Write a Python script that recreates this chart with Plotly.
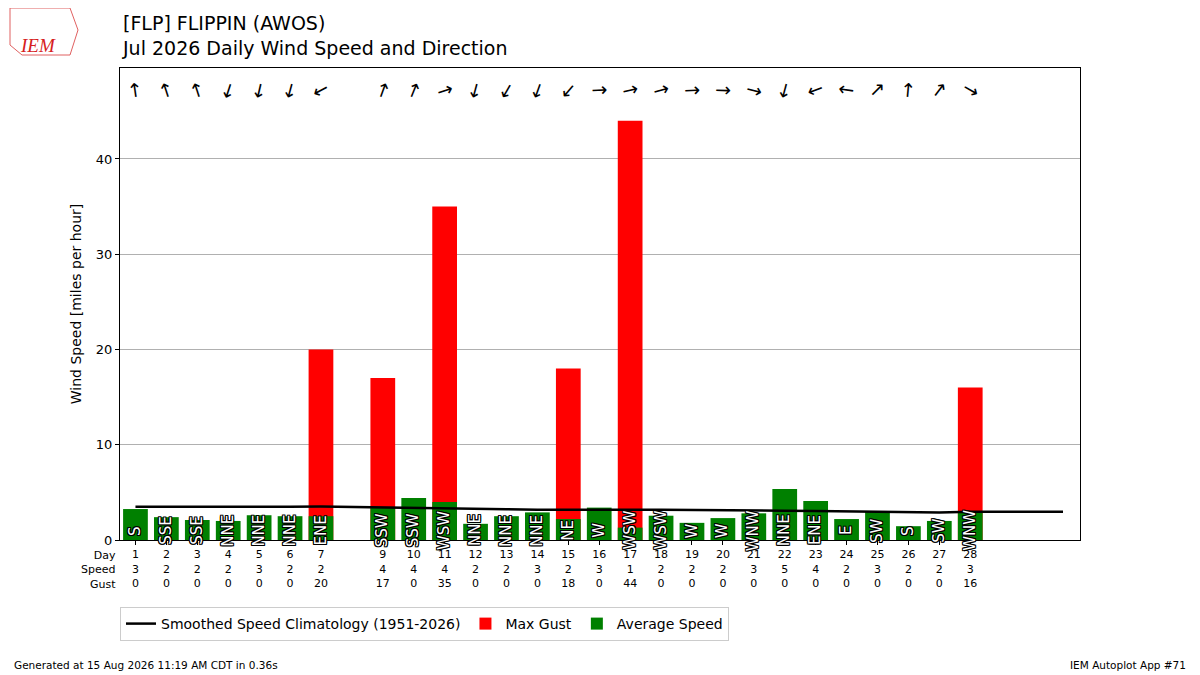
import plotly.graph_objects as go

# daily data (day 8 missing)
days = [1, 2, 3, 4, 5, 6, 7, 9, 10, 11, 12, 13, 14, 15, 16, 17, 18, 19, 20,
        21, 22, 23, 24, 25, 26, 27, 28]
avg_speed = [3.25, 2.4, 2.1, 2.0, 2.6, 2.5, 2.5, 3.45, 4.4, 4.0, 1.7, 2.5, 2.9,
             2.2, 3.4, 1.3, 2.55, 1.8, 2.3, 2.8, 5.35, 4.1, 2.2, 3.0, 1.45,
             2.0, 3.0]
max_gust = [0, 0, 0, 0, 0, 0, 20, 17, 0, 35, 0, 0, 0, 18, 0, 44, 0, 0, 0,
            0, 0, 0, 0, 0, 0, 0, 16]
speed_table = [3, 2, 2, 2, 3, 2, 2, 4, 4, 4, 2, 2, 3, 2, 3, 1, 2, 2, 2, 3, 5,
               4, 2, 3, 2, 2, 3]
# mean direction wind is blowing from (deg)
wind_dir = [172, 162, 162, 18, 13, 15, 62, 200, 202, 252, 15, 30, 20, 40,
            268, 257, 255, 268, 272, 285, 15, 70, 98, 225, 185, 217, 300]
dir_labels = ["S", "SSE", "SSE", "NNE", "NNE", "NNE", "ENE", "SSW", "SSW",
              "WSW", "NNE", "NNE", "NNE", "NE", "W", "WSW", "WSW", "W", "W",
              "WNW", "NNE", "ENE", "E", "SW", "S", "SW", "WNW"]

clim_days = list(range(1, 32))
clim_speed = [3.50, 3.49, 3.48, 3.47, 3.48, 3.50, 3.52, 3.47, 3.42, 3.36, 3.25,
              3.23, 3.22, 3.18, 3.15, 3.16, 3.17, 3.18, 3.17, 3.15, 3.12,
              3.08, 3.04, 3.00, 2.94, 2.90, 2.90, 2.97, 2.97, 2.97, 2.97]

FONT = "DejaVu Sans"
# page body adds an 8px margin, so the figure is laid out 8px up/left
OFF = 8
PW, PH = 960, 472  # plot area size in px


def px(x):
    return (x - 120) / PW


def py(y):
    return (540 - y) / PH


fig = go.Figure()

fig.add_trace(go.Bar(
    x=days, y=max_gust, name="Max Gust", marker_color="#ff0000",
    marker_line_width=0, width=0.8, legendrank=2,
))
fig.add_trace(go.Bar(
    x=days, y=avg_speed, name="Average Speed", marker_color="#008000",
    marker_line_width=0, width=0.8, legendrank=3,
))
fig.add_trace(go.Scatter(
    x=clim_days, y=clim_speed, mode="lines",
    name="Smoothed Speed Climatology (1951-2026)",
    line=dict(color="black", width=2.5), legendrank=1,
))

annotations = []

outline = ", ".join(f"{a}px {b}px 0 black" for a, b in
                    [(1, 1), (-1, -1), (1, -1), (-1, 1), (0, 1), (0, -1), (1, 0), (-1, 0)])

# direction labels inside the bars
for d, lab in zip(days, dir_labels):
    annotations.append(dict(
        x=d, y=1.0, xref="x", yref="y", text=lab, showarrow=False,
        textangle=-90, yanchor="middle", xanchor="center",
        font=dict(family=FONT, size=15, color="white", shadow=outline),
    ))

# arrows showing where the wind is going
for d, wd in zip(days, wind_dir):
    annotations.append(dict(
        x=d, y=47.2, xref="x", yref="y", text="↑", showarrow=False,
        textangle=(wd + 180) % 360,
        font=dict(family=FONT, size=19, color="black"),
    ))

# table row header
annotations.append(dict(
    x=px(118), y=py(547), xref="paper", yref="paper", text="Day<br>Speed<br>Gust",
    showarrow=False, xanchor="right", yanchor="top", align="right",
    font=dict(family=FONT, size=11, color="black"),
))

# titles
annotations.append(dict(
    x=0, y=py(61), xref="paper", yref="paper",
    text="[FLP] FLIPPIN (AWOS)<br>Jul 2026 Daily Wind Speed and Direction",
    showarrow=False, xanchor="left", yanchor="bottom", align="left",
    font=dict(family=FONT, size=19, color="black"),
))

# logo stand-in
annotations.append(dict(
    x=px(38), y=py(45), xref="paper", yref="paper",
    text="<i>IEM</i>", showarrow=False, xanchor="center", yanchor="middle",
    font=dict(family="Liberation Serif", size=19, color="#d62020"),
))

# footer
annotations.append(dict(
    x=px(12), y=py(665), xref="paper", yref="paper",
    text="Generated at 15 Aug 2026 11:19 AM CDT in 0.36s", showarrow=False,
    xanchor="left", yanchor="middle", font=dict(family=FONT, size=10.5, color="black"),
))
annotations.append(dict(
    x=px(1188), y=py(665), xref="paper", yref="paper",
    text="IEM Autoplot App #71", showarrow=False,
    xanchor="right", yanchor="middle", font=dict(family=FONT, size=10.5, color="black"),
))

tick_text = [f"{d}<br>{s}<br>{g}" for d, s, g in zip(days, speed_table, max_gust)]

logo_path = "M {0},{1} L {2},{1} L {3},{4} L {2},{5} L {6},{5} L {0},{7} Z".format(
    px(10), py(8), px(70), px(78), py(30), py(55), px(22), py(45))

fig.update_layout(
    width=1200, height=675,
    margin=dict(l=120 - OFF, r=120 + OFF, t=68 - OFF, b=135 + OFF),
    paper_bgcolor="white", plot_bgcolor="white",
    barmode="overlay",
    font=dict(family=FONT, size=13, color="black"),
    annotations=annotations,
    showlegend=True,
    legend=dict(
        orientation="h", x=0, y=py(607), xanchor="left", yanchor="top",
        bordercolor="#cccccc", borderwidth=1, font=dict(size=14),
        traceorder="normal",
    ),
    shapes=[
        dict(type="path", xref="paper", yref="paper", path=logo_path,
             line=dict(color="#e06060", width=1)),
    ],
)

fig.update_xaxes(
    range=[0.5, 31.55], tickvals=days, ticktext=tick_text,
    ticks="outside", ticklen=4, tickcolor="black",
    tickfont=dict(size=11),
    showline=True, linecolor="black", linewidth=1, mirror=True,
    showgrid=False, zeroline=False,
)
fig.update_yaxes(
    range=[0, 49.55], tickvals=[0, 10, 20, 30, 40],
    ticks="outside", ticklen=4, tickcolor="black",
    title=dict(text="Wind Speed [miles per hour]", font=dict(size=14), standoff=10),
    showline=True, linecolor="black", linewidth=1, mirror=True,
    showgrid=True, gridcolor="#b0b0b0", gridwidth=1, zeroline=False,
)

fig.write_html("out.html")
